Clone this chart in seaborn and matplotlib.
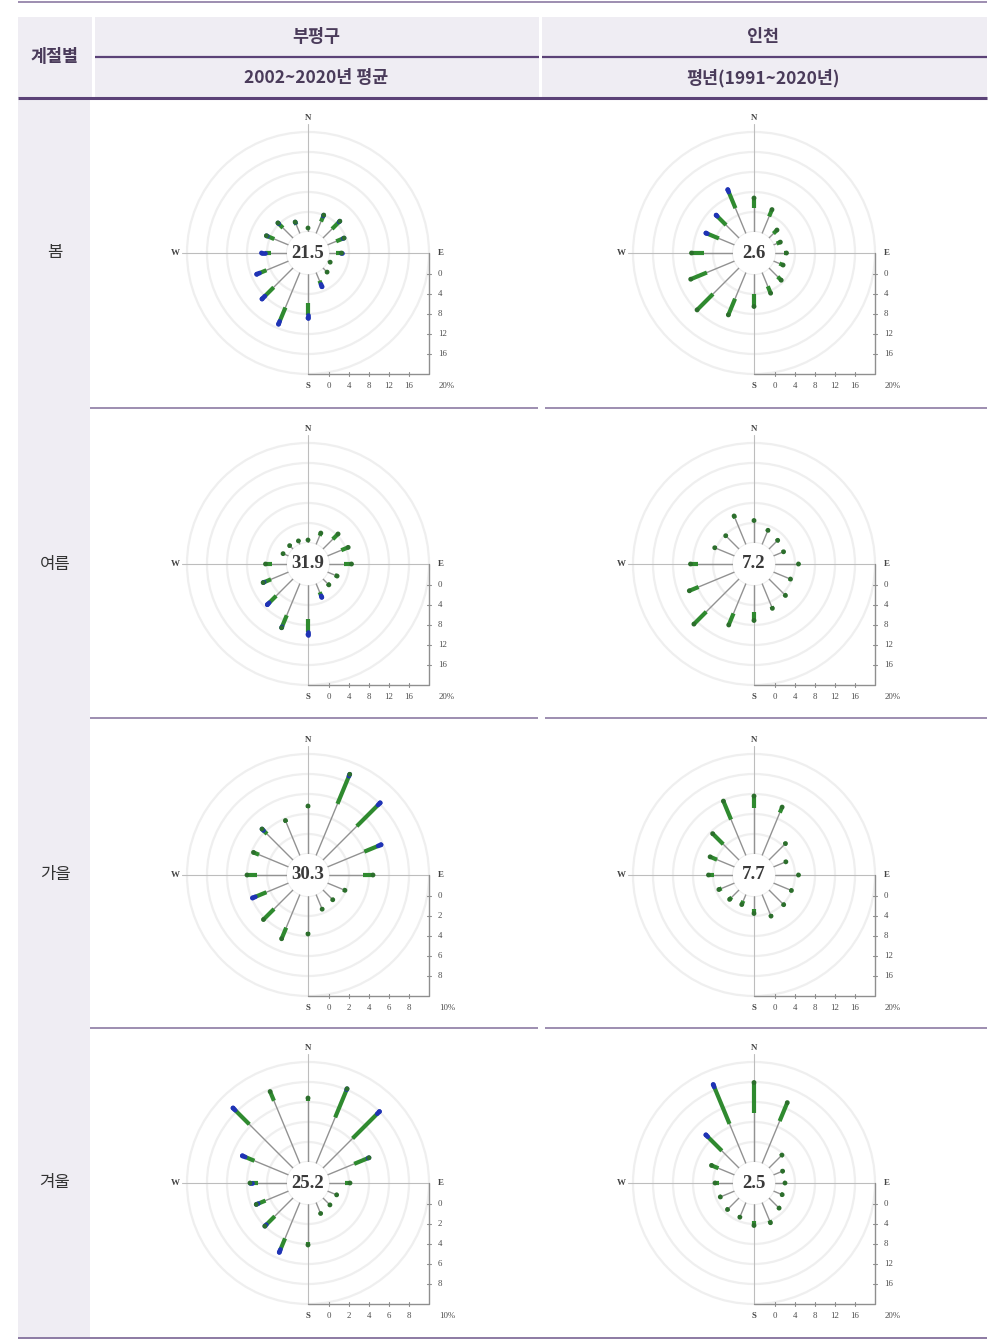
import numpy as np
import pandas as pd
import matplotlib
matplotlib.use("Agg")
import matplotlib.pyplot as plt
from matplotlib.patches import Rectangle, Circle
from matplotlib.lines import Line2D
import seaborn as sns

sns.set_theme(style="white")
plt.rcParams['font.family'] = ['Noto Sans CJK KR', 'DejaVu Sans']

# ---------------- data ----------------
directions = ['N', 'NNE', 'NE', 'ENE', 'E', 'ESE', 'SE', 'SSE',
              'S', 'SSW', 'SW', 'WSW', 'W', 'WNW', 'NW', 'NNW']
seasons = ['봄', '여름', '가을', '겨울']
stations = ['부평구', '인천']
periods = ['2002~2020년 평균', '평년(1991~2020년)']
row_header = '계절별'

calm_bupyeong = [21.5, 31.9, 30.3, 25.2]
calm_incheon = [2.6, 7.2, 7.7, 2.5]
scale_bupyeong = [20, 20, 10, 10]
scale_incheon = [20, 20, 20, 20]

# total frequency (%) per direction, green (mid speed) part, blue (high speed) part
bp_spring_total = [0.8, 4.0, 4.8, 3.6, 2.5, 0.6, 1.2, 3.1, 8.8, 11.2, 8.8, 6.9, 5.1, 4.8, 4.3, 2.5]
bp_spring_green = [0.0, 1.2, 2.0, 1.5, 1.0, 0.0, 0.2, 0.8, 2.4, 3.0, 2.5, 1.5, 1.2, 1.5, 1.2, 0.5]
bp_spring_blue = [0.0, 0.2, 0.2, 0.2, 0.2, 0.0, 0.0, 0.5, 0.6, 0.6, 0.8, 0.6, 0.6, 0.2, 0.2, 0.1]

ic_spring_total = [6.8, 5.2, 2.3, 1.5, 2.3, 2.1, 3.5, 4.5, 6.5, 9.2, 11.9, 9.5, 8.3, 6.2, 6.5, 9.5]
ic_spring_green = [2.0, 1.5, 1.0, 0.8, 0.6, 0.8, 1.0, 1.5, 2.5, 3.5, 4.5, 3.5, 2.5, 2.5, 2.5, 3.5]
ic_spring_blue = [0.0, 0.0, 0.0, 0.0, 0.0, 0.0, 0.0, 0.0, 0.0, 0.0, 0.0, 0.0, 0.0, 0.3, 0.3, 0.5]

bp_summer_total = [0.6, 2.5, 4.3, 4.5, 4.5, 2.1, 1.7, 3.0, 9.9, 9.6, 7.3, 5.5, 4.3, 1.2, 1.0, 0.8]
bp_summer_green = [0.0, 0.6, 1.5, 1.5, 1.5, 0.5, 0.4, 0.8, 2.5, 2.5, 2.0, 1.5, 1.2, 0.2, 0.2, 0.1]
bp_summer_blue = [0.0, 0.0, 0.0, 0.0, 0.0, 0.0, 0.0, 0.3, 0.6, 0.2, 0.5, 0.2, 0.0, 0.0, 0.0, 0.0]

ic_summer_total = [4.5, 3.1, 2.5, 2.2, 4.7, 3.7, 4.7, 5.4, 7.1, 9.0, 12.8, 9.8, 8.5, 4.3, 3.8, 6.2]
ic_summer_green = [0.3, 0.3, 0.3, 0.3, 0.3, 0.3, 0.4, 0.4, 1.8, 2.5, 3.5, 2.0, 1.5, 0.3, 0.3, 0.5]
ic_summer_blue = [0.0] * 16

bp_autumn_total = [4.8, 8.8, 8.1, 5.8, 4.4, 1.9, 1.4, 1.6, 3.8, 4.8, 4.2, 3.9, 4.0, 3.8, 4.4, 3.8]
bp_autumn_green = [0.2, 3.0, 3.0, 1.5, 1.0, 0.2, 0.1, 0.1, 0.2, 1.2, 1.5, 1.2, 1.0, 0.6, 0.5, 0.2]
bp_autumn_blue = [0.0, 0.2, 0.3, 0.3, 0.0, 0.0, 0.0, 0.0, 0.0, 0.0, 0.0, 0.3, 0.0, 0.0, 0.2, 0.0]

ic_autumn_total = [11.6, 10.5, 4.7, 2.7, 4.7, 3.9, 4.2, 4.7, 3.5, 2.2, 2.7, 3.4, 4.9, 5.3, 7.5, 11.8]
ic_autumn_green = [2.5, 1.2, 0.3, 0.3, 0.3, 0.3, 0.3, 0.3, 0.8, 0.8, 0.6, 0.6, 1.0, 1.5, 3.0, 4.0]
ic_autumn_blue = [0.0] * 16

bp_winter_total = [6.4, 8.1, 8.0, 4.5, 2.1, 1.0, 1.0, 1.2, 4.1, 5.4, 4.0, 3.5, 3.7, 5.0, 8.5, 7.8]
bp_winter_green = [0.3, 3.0, 3.5, 1.5, 0.5, 0.1, 0.1, 0.1, 0.3, 1.2, 1.2, 0.8, 0.6, 1.0, 2.0, 1.0]
bp_winter_blue = [0.0, 0.1, 0.3, 0.1, 0.0, 0.0, 0.0, 0.0, 0.0, 0.3, 0.2, 0.2, 0.2, 0.3, 0.3, 0.0]

ic_winter_total = [15.9, 13.2, 3.7, 2.0, 2.0, 1.9, 2.9, 4.4, 4.3, 3.2, 3.3, 3.1, 3.6, 5.0, 9.4, 17.1]
ic_winter_green = [6.0, 4.0, 0.3, 0.3, 0.3, 0.3, 0.3, 0.5, 1.0, 0.3, 0.3, 0.3, 0.8, 1.5, 4.0, 8.0]
ic_winter_blue = [0.0, 0.0, 0.0, 0.0, 0.0, 0.0, 0.0, 0.0, 0.0, 0.0, 0.0, 0.0, 0.0, 0.0, 0.5, 0.5]

bupyeong_sets = [(bp_spring_total, bp_spring_green, bp_spring_blue),
                 (bp_summer_total, bp_summer_green, bp_summer_blue),
                 (bp_autumn_total, bp_autumn_green, bp_autumn_blue),
                 (bp_winter_total, bp_winter_green, bp_winter_blue)]
incheon_sets = [(ic_spring_total, ic_spring_green, ic_spring_blue),
                (ic_summer_total, ic_summer_green, ic_summer_blue),
                (ic_autumn_total, ic_autumn_green, ic_autumn_blue),
                (ic_winter_total, ic_winter_green, ic_winter_blue)]

# ---------------- figure / table ----------------
W, H = 997, 1339
fig = plt.figure(figsize=(W / 100, H / 100), dpi=100)
fig.patch.set_facecolor('white')


def fx(x):
    return x / W


def fy(y):
    return 1 - y / H


def frect(x0, y0, x1, y1, color):
    fig.add_artist(Rectangle((fx(x0), fy(y1)), (x1 - x0) / W, (y1 - y0) / H,
                             transform=fig.transFigure, facecolor=color,
                             edgecolor='none', zorder=0))


def fline(x0, x1, y, color, lw):
    fig.add_artist(Line2D([fx(x0), fx(x1)], [fy(y), fy(y)], transform=fig.transFigure,
                          color=color, lw=lw, solid_capstyle='butt', zorder=2))


HEAD_BG = '#efedf3'
PURPLE = '#5b4277'
PURPLE_L = '#8c7aa3'
TXT_HEAD = '#4a3b5a'

# header background
frect(18, 17, 92, 98, HEAD_BG)
frect(95, 17, 539, 98, HEAD_BG)
frect(542, 17, 987, 98, HEAD_BG)
# left column background
frect(18, 100, 90, 1339, HEAD_BG)

fline(18, 987, 2, PURPLE_L, 1.2)
fline(95, 539, 57, PURPLE, 1.6)
fline(542, 987, 57, PURPLE, 1.6)
fline(18, 987, 98, PURPLE, 2.2)
for yy in [408, 718, 1028]:
    fline(90, 538, yy, PURPLE_L, 1.2)
    fline(545, 987, yy, PURPLE_L, 1.2)
fline(18, 987, 1338, PURPLE_L, 1.4)

fig.text(fx(55), fy(57), row_header, ha='center', va='center', fontsize=12.5,
         fontweight='bold', color=TXT_HEAD)
col_cx = [316, 763]
for i in range(2):
    fig.text(fx(col_cx[i]), fy(37), stations[i], ha='center', va='center',
             fontsize=12.5, fontweight='bold', color=TXT_HEAD)
    fig.text(fx(col_cx[i]), fy(78), periods[i], ha='center', va='center',
             fontsize=12.5, fontweight='bold', color=TXT_HEAD)

row_cy = [253, 564, 875, 1183]
for i, s in enumerate(seasons):
    fig.text(fx(55), fy(row_cy[i]), s, ha='center', va='center', fontsize=12,
             color='#333333')

# ---------------- wind roses ----------------
GREEN = '#2f8a2f'
BLUE = '#1f33b5'
SERIF = ['Liberation Serif', 'DejaVu Serif']


def draw_rose(ax, total, green, blue, calm, scale):
    c = 1.05           # calm circle radius (ring units)
    u = scale / 5.0    # percent per ring
    nring = 5
    R = c + nring
    th = np.deg2rad(np.arange(len(directions)) * 22.5)
    total = np.asarray(total, float)
    green = np.asarray(green, float)
    blue = np.asarray(blue, float)
    r_tip = c + total / u
    r_b0 = c + (total - blue) / u
    r_g0 = c + (total - blue - green) / u

    for k in range(nring + 1):
        ax.add_patch(Circle((0, 0), c + k, fill=False, ec='#efefef', lw=1.6, zorder=1))
    ax.plot([-6.3, R], [0, 0], color='#bdbdbd', lw=0.8, zorder=2)
    ax.plot([0, 0], [6.45, -R], color='#bdbdbd', lw=0.8, zorder=2)
    ax.plot([0, R, R], [-R, -R, 0], color='#8f8f8f', lw=1.0, zorder=2)

    # scale ticks
    ticks = [k * u for k in range(nring)]
    for k in range(nring):
        p = c + k
        ax.plot([p, p], [-R - 0.12, -R + 0.12], color='#8f8f8f', lw=0.8, zorder=2)
        ax.plot([R - 0.12, R + 0.12], [-p, -p], color='#8f8f8f', lw=0.8, zorder=2)
        lab = f'{ticks[k]:g}'
        ax.text(p, -R - 0.6, lab, ha='center', va='center', fontsize=6.3,
                family=SERIF, color='#4a4a4a')
        ax.text(R + 0.45, -p, lab, ha='left', va='center', fontsize=6.3,
                family=SERIF, color='#4a4a4a')
    ax.text(0, -R - 0.6, 'S', ha='center', va='center', fontsize=6.3,
            family=SERIF, fontweight='bold', color='#444444')
    ax.text(R + 0.9, -R - 0.6, f'{scale:g}%', ha='center', va='center', fontsize=6.3,
            family=SERIF, color='#4a4a4a')
    ax.text(0, 6.75, 'N', ha='center', va='center', fontsize=6.5,
            family=SERIF, fontweight='bold', color='#444444')
    ax.text(-6.65, 0, 'W', ha='center', va='center', fontsize=6.5,
            family=SERIF, fontweight='bold', color='#444444')
    ax.text(R + 0.45, 0, 'E', ha='left', va='center', fontsize=6.5,
            family=SERIF, fontweight='bold', color='#444444')

    sx, cy = np.sin(th), np.cos(th)
    for i in range(len(directions)):
        ax.plot([c * sx[i], r_tip[i] * sx[i]], [c * cy[i], r_tip[i] * cy[i]],
                color='#929292', lw=1.0, zorder=3, solid_capstyle='butt')
        if green[i] > 0:
            ax.plot([r_g0[i] * sx[i], r_b0[i] * sx[i]], [r_g0[i] * cy[i], r_b0[i] * cy[i]],
                    color=GREEN, lw=3.0, zorder=4, solid_capstyle='butt')
        if blue[i] > 0:
            ax.plot([r_b0[i] * sx[i], r_tip[i] * sx[i]], [r_b0[i] * cy[i], r_tip[i] * cy[i]],
                    color=BLUE, lw=3.4, zorder=5, solid_capstyle='round')

    tips = pd.DataFrame({'x': r_tip * sx, 'y': r_tip * cy,
                         'cls': np.where(blue > 0.25, 'high', 'mid')})
    sns.scatterplot(data=tips, x='x', y='y', hue='cls',
                    palette={'high': BLUE, 'mid': '#2c6e2c'},
                    s=12, marker='o', edgecolor='none', legend=False, ax=ax, zorder=6)

    ax.add_patch(Circle((0, 0), c, facecolor='white', ec='none', zorder=7))
    ax.text(0, 0, f'{calm:g}', ha='center', va='center', fontsize=13.5,
            family=SERIF, fontweight='bold', color='#3a3a3a', zorder=8)

    ax.set_xlim(-7.5, 7.5)
    ax.set_ylim(-7.5, 7.5)
    ax.set_xlabel('')
    ax.set_ylabel('')
    ax.axis('off')


rose_cx = [308, 754]
half = 150
for r in range(4):
    for col in range(2):
        cx, cyp = rose_cx[col], row_cy[r]
        ax = fig.add_axes([fx(cx - half), fy(cyp + half), 2 * half / W, 2 * half / H])
        if col == 0:
            t, g, b = bupyeong_sets[r]
            draw_rose(ax, t, g, b, calm_bupyeong[r], scale_bupyeong[r])
        else:
            t, g, b = incheon_sets[r]
            draw_rose(ax, t, g, b, calm_incheon[r], scale_incheon[r])

fig.savefig('out.png', dpi=100, facecolor='white')
